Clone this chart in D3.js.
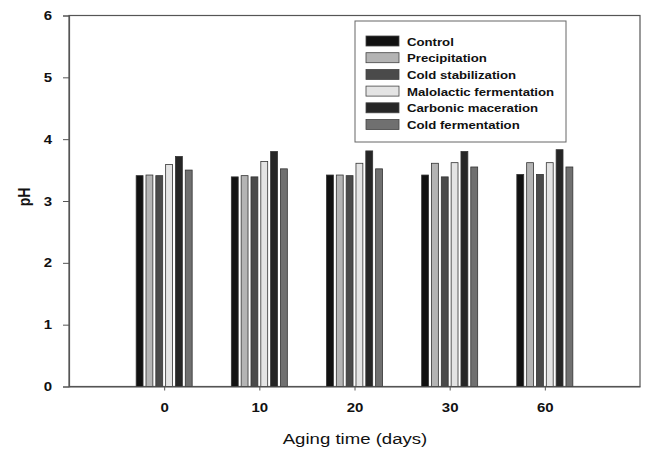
<!DOCTYPE html>
<html lang="en">
<head>
<meta charset="UTF-8">
<script src="https://d3js.org/d3.v7.min.js"></script>
<style>
  body { margin: 0; background: #fff; font-family: "Liberation Sans", Arial, sans-serif; }
</style>
</head>
<body>
<div id="vis"></div>
<script>
// data
const days = ['0', '10', '20', '30', '60'];
const treatments = ['Control', 'Precipitation', 'Cold stabilization',
  'Malolactic fermentation', 'Carbonic maceration', 'Cold fermentation'];
const control       = [3.41, 3.39, 3.42, 3.42, 3.43];
const precipitation = [3.42, 3.41, 3.42, 3.61, 3.62];
const coldStab      = [3.41, 3.39, 3.41, 3.39, 3.43];
const malolactic    = [3.59, 3.64, 3.61, 3.62, 3.62];
const carbonic      = [3.72, 3.80, 3.81, 3.80, 3.83];
const coldFerm      = [3.50, 3.52, 3.52, 3.55, 3.55];
const yTicks = [0, 1, 2, 3, 4, 5, 6];

const series = [control, precipitation, coldStab, malolactic, carbonic, coldFerm];
const colours = ['#111111', '#b4b4b4', '#4a4a4a', '#e4e4e4', '#262626', '#707070'];

const width = 646, height = 450;
const margin = { top: 15.5, right: 6, bottom: 63.5, left: 69 };
// the original scan is a bit wider than tall, so text gets stretched sideways
const stretch = 1.2;

const svg = d3.select('#vis').append('svg')
  .attr('width', width)
  .attr('height', height);

const x = d3.scalePoint()
  .domain(days)
  .range([margin.left, width - margin.right])
  .padding(1);

const y = d3.scaleLinear()
  .domain([0, 6])
  .range([height - margin.bottom, margin.top]);

// offset of each bar inside a group
const inner = d3.scaleBand()
  .domain(treatments)
  .range([-28, 28])
  .paddingInner(0.3);

// frame
svg.append('rect')
  .attr('x', margin.left)
  .attr('y', margin.top)
  .attr('width', width - margin.right - margin.left)
  .attr('height', height - margin.bottom - margin.top)
  .attr('fill', 'none')
  .attr('stroke', '#555')
  .attr('stroke-width', 1.2);

// bars
const rows = days.map((d, i) => treatments.map((t, j) => ({ day: d, t: t, v: series[j][i], c: colours[j] })));
svg.append('g').selectAll('g')
  .data(rows)
  .join('g')
  .selectAll('rect')
  .data(d => d)
  .join('rect')
  .attr('x', d => x(d.day) + inner(d.t))
  .attr('y', d => y(d.v))
  .attr('width', inner.bandwidth())
  .attr('height', d => y(0) - y(d.v))
  .attr('fill', d => d.c)
  .attr('stroke', '#333')
  .attr('stroke-width', 0.8);

// y axis
const yAxis = svg.append('g')
  .attr('transform', `translate(${margin.left},0)`)
  .call(d3.axisLeft(y).tickValues(yTicks).tickSize(6).tickFormat(d3.format('d')));
yAxis.select('.domain').attr('stroke', '#555').attr('stroke-width', 1.2);
yAxis.selectAll('.tick line').attr('stroke', '#555');
yAxis.selectAll('.tick text')
  .attr('x', -17 / stretch)
  .attr('transform', `scale(${stretch},1)`)
  .style('font-family', '"Liberation Sans", Arial, sans-serif')
  .style('font-size', '12.5px')
  .style('font-weight', 'bold')
  .attr('fill', '#111');

// x axis
const xAxis = svg.append('g')
  .attr('transform', `translate(0,${height - margin.bottom})`)
  .call(d3.axisBottom(x).tickSize(4).tickSizeOuter(0));
xAxis.select('.domain').attr('stroke', '#555').attr('stroke-width', 1.2);
xAxis.selectAll('.tick line').attr('stroke', '#555');
xAxis.selectAll('.tick text')
  .attr('y', 17)
  .attr('transform', `scale(${stretch},1)`)
  .style('font-family', '"Liberation Sans", Arial, sans-serif')
  .style('font-size', '12.5px')
  .style('font-weight', 'bold')
  .attr('fill', '#111');

// axis titles
svg.append('text')
  .attr('transform', 'translate(30,197) rotate(-90) scale(1,1.2)')
  .attr('text-anchor', 'middle')
  .style('font-size', '14px')
  .style('font-weight', 'bold')
  .attr('fill', '#111')
  .text('pH');

svg.append('text')
  .attr('transform', `translate(355,444) scale(${stretch},1)`)
  .attr('text-anchor', 'middle')
  .style('font-size', '15.5px')
  .attr('fill', '#111')
  .text('Aging time (days)');

// legend
const legend = svg.append('g');
legend.append('rect')
  .attr('x', 355).attr('y', 21)
  .attr('width', 211).attr('height', 121)
  .attr('fill', '#fff')
  .attr('stroke', '#666')
  .attr('stroke-width', 1);

const items = legend.selectAll('g.item')
  .data(treatments)
  .join('g')
  .attr('class', 'item')
  .attr('transform', (d, i) => `translate(366,${41 + i * 16.7})`);

items.append('rect')
  .attr('x', 0).attr('y', -5)
  .attr('width', 33).attr('height', 10)
  .attr('fill', (d, i) => colours[i])
  .attr('stroke', '#444')
  .attr('stroke-width', 0.8);

items.append('text')
  .attr('x', 41 / stretch).attr('y', 4.5)
  .attr('transform', `scale(${stretch},1)`)
  .style('font-size', '11px')
  .style('font-weight', 'bold')
  .attr('fill', '#111')
  .text(d => d);
</script>
</body>
</html>
